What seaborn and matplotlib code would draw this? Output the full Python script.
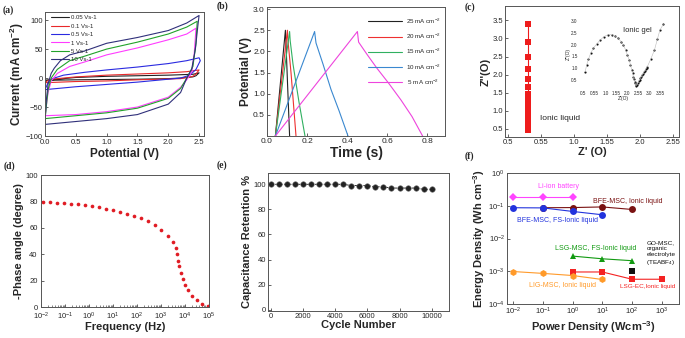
import numpy as np
import pandas as pd
import matplotlib
matplotlib.use("Agg")
import matplotlib.pyplot as plt
import seaborn as sns

sns.set_style("ticks")
plt.rcParams['font.family'] = ['Liberation Sans', 'DejaVu Sans']
plt.rcParams['mathtext.fontset'] = 'custom'
plt.rcParams['mathtext.rm'] = 'Liberation Sans'
plt.rcParams['mathtext.bf'] = 'Liberation Sans:bold'
plt.rcParams['mathtext.it'] = 'Liberation Sans:italic'
plt.rcParams['axes.edgecolor'] = '#555555'
plt.rcParams['axes.linewidth'] = 0.7

W, H = 685, 338

# ---------- (a) CV curves ----------
cv_labels = ['0.05 Vs-1', '0.1 Vs-1', '0.5 Vs-1', '1 Vs-1', '5 Vs-1', '10 Vs-1']
cv_colors = ['#222222', '#e8282a', '#2a2ae0', '#ff3cff', '#22a22a', '#30307a']
cv_005_v = [0, 0.5, 1.0, 1.5, 2.0, 2.4, 2.5, 2.45, 2.4, 2.2, 2.0, 1.5, 1.0, 0.5, 0.0, 0]
cv_005_i = [-4, 1, 3, 4, 5, 6.5, 9, 4, 2, 0, -1, -2, -2.5, -3, -4, -4]
cv_01_v = [0, 0.1, 0.5, 1.0, 1.5, 2.0, 2.3, 2.5, 2.45, 2.4, 2.2, 1.5, 1.0, 0.5, 0.0, 0]
cv_01_i = [-7, -2, 2, 5, 7, 9, 11, 14, 7, 3, -1, -3, -5, -6, -8, -7]
cv_05_v = [0, 0.05, 0.1, 0.15, 0.3, 0.65, 1.0, 1.5, 2.0, 2.3, 2.5, 2.52, 2.45, 2.35, 2.2, 1.5, 1.0, 0.5, 0.1, 0.0, 0]
cv_05_i = [-20, -8, -2, 0, 5, 10, 14, 19, 25, 30, 35, 30, 15, 5, 0, -7, -11, -15, -19, -20, -20]
cv_1_v = [0, 0.05, 0.1, 0.2, 0.4, 0.65, 1.0, 1.5, 2.0, 2.3, 2.45, 2.42, 2.38, 2.3, 2.2, 2.0, 1.5, 1.0, 0.5, 0.0]
cv_1_i = [-65, -25, -5, 8, 20, 28, 40, 52, 66, 76, 86, 40, 10, -3, -16, -33, -50, -58, -63, -65]
cv_5_v = [0, 0.05, 0.1, 0.2, 0.4, 0.65, 1.0, 1.5, 2.0, 2.3, 2.47, 2.45, 2.4, 2.3, 2.2, 2.0, 1.5, 1.0, 0.5, 0.0]
cv_5_i = [-70, -20, 0, 15, 30, 38, 50, 62, 76, 88, 98, 60, 20, 0, -18, -35, -52, -60, -65, -70]
cv_10_v = [0, 0.02, 0.05, 0.1, 0.15, 0.25, 0.4, 0.65, 1.0, 1.5, 2.0, 2.3, 2.5, 2.48, 2.44, 2.38, 2.3, 2.2, 2.0, 1.5, 1.0, 0.5, 0.0]
cv_10_i = [-80, -40, -10, 8, 17, 30, 40, 47, 60, 70, 82, 95, 108, 90, 50, 15, 0, -25, -45, -63, -70, -75, -80]
cv_v = [cv_005_v, cv_01_v, cv_05_v, cv_1_v, cv_5_v, cv_10_v]
cv_i = [cv_005_i, cv_01_i, cv_05_i, cv_1_i, cv_5_i, cv_10_i]

# ---------- (b) GCD curves ----------
gcd_labels = ['25 mA cm$^{-2}$', '20 mA cm$^{-2}$', '15 mA cm$^{-2}$', '10 mA cm$^{-2}$', ' 5 mA cm$^{-2}$']
gcd_colors = ['#222222', '#ee3030', '#30b060', '#3a88d0', '#ee44dd']
gcd_t = [
    [0.042, 0.092, 0.094, 0.103, 0.113],
    [0.042, 0.102, 0.104, 0.12, 0.145],
    [0.042, 0.113, 0.116, 0.13, 0.16, 0.19],
    [0.042, 0.238, 0.245, 0.28, 0.32, 0.36, 0.405],
    [0.042, 0.452, 0.458, 0.5, 0.55, 0.608, 0.67, 0.725, 0.778],
]
gcd_u = [
    [0.0, 2.5, 2.3, 1.2, 0.0],
    [0.0, 2.5, 2.3, 1.5, 0.0],
    [0.0, 2.47, 2.25, 1.7, 0.8, 0.0],
    [0.0, 2.47, 2.2, 1.7, 1.1, 0.6, 0.0],
    [0.0, 2.47, 2.22, 1.93, 1.6, 1.25, 0.85, 0.46, 0.0],
]

# ---------- (c) Nyquist ----------
il_z = 0.80
il_zz = [3.4, 2.9, 2.5, 2.15, 1.88, 1.65, 1.45, 1.3, 1.17, 1.07, 0.98, 0.9, 0.83,
         0.77, 0.71, 0.66, 0.61, 0.57, 0.53, 0.5, 0.47]
gel_z = [0.58, 0.65, 0.73, 0.83, 0.95, 1.11, 1.26, 1.44, 1.61, 1.79, 1.94, 2.09, 2.21,
         2.32, 2.42, 2.5, 2.58, 2.64, 2.7, 2.74, 2.77, 2.8, 2.83, 2.85, 2.87, 2.89,
         2.93, 2.97, 3.01, 3.05, 3.09, 3.13, 3.17, 3.21, 3.25, 3.29, 3.33, 3.37, 3.41,
         3.56, 3.73, 3.86, 3.98, 4.14]
gel_zz = [0.85, 1.14, 1.38, 1.63, 1.84, 2.03, 2.19, 2.34, 2.41, 2.42, 2.36, 2.27, 2.12,
          1.98, 1.77, 1.56, 1.35, 1.14, 0.92, 0.8, 0.64, 0.52, 0.42, 0.36, 0.3, 0.25,
          0.3, 0.37, 0.44, 0.5, 0.57, 0.64, 0.7, 0.77, 0.84, 0.9, 0.96, 1.02, 1.07,
          1.38, 1.77, 2.22, 2.62, 2.87]
c_ticks = [0.5, 1.0, 1.5, 2.0, 2.5, 3.0]
c_ticklabels = ['0.5', '0.55', '1.0', '1.55', '2.0', '2.55']
ins_ticks = [0.5, 1.0, 1.5, 2.0, 2.5, 3.0, 3.5, 4.0]
ins_ticklabels = ['0.5', '0.55', '1.0', '1.55', '2.0', '2.55', '3.0', '3.55']

# ---------- (d) Bode phase ----------
logf = [-1.9, -1.62, -1.33, -1.03, -0.74, -0.45, -0.16, 0.13, 0.42, 0.71, 1.0, 1.29,
        1.58, 1.87, 2.16, 2.45, 2.74, 3.02, 3.3, 3.5, 3.62, 3.67, 3.71, 3.76, 3.83,
        3.9, 3.99, 4.13, 4.31, 4.5, 4.71, 4.96]
phase = [79.5, 79.3, 79.1, 78.8, 78.3, 77.7, 77.0, 76.3, 75.5, 74.6, 73.5, 72.3,
         70.8, 69.2, 67.3, 65.2, 62.3, 58.5, 53.5, 49.0, 44.7, 40.0, 35.0, 31.0, 26.0,
         21.4, 17.0, 12.6, 8.3, 5.0, 2.5, 1.0]

# ---------- (e) cycling ----------
cycles = [0, 500, 1000, 1500, 2000, 2500, 3000, 3500, 4000, 4500, 5000, 5500, 6000,
          6500, 7000, 7500, 8000, 8500, 9000, 9500, 10000]
retention = [100, 100, 100, 100, 100, 100, 100, 100, 100, 100, 99, 99, 99, 98, 98,
             97, 97, 97, 97, 96, 96]

# ---------- (f) Ragone ----------
li_p, li_e = [0.01, 0.1, 1], [0.19, 0.19, 0.19]
bfe_p, bfe_e = [0.1, 1, 10, 100], [0.087, 0.088, 0.092, 0.077]
bfefs_p, bfefs_e = [0.01, 0.1, 1, 10], [0.087, 0.086, 0.067, 0.053]
lsgfs_p, lsgfs_e = [1, 10, 100], [0.0029, 0.0024, 0.0021]
lsgec_p, lsgec_e = [1, 10, 100, 1000], [0.00095, 0.00095, 0.00057, 0.00057]
lig_p, lig_e = [0.01, 0.1, 1, 10], [0.00098, 0.00086, 0.00074, 0.00056]
go_p, go_e = [100], [0.001]


def rect(l, r, t, b):
    return [l / W, 1 - b / H, (r - l) / W, (b - t) / H]


def style(ax, fs=5.5):
    for s in ax.spines.values():
        s.set_visible(True)
    ax.tick_params(direction='in', length=2, width=0.5, labelsize=fs, pad=1.5,
                   top=False, right=False)
    ax.tick_params(which='minor', direction='in', length=1.2, width=0.4)


fig = plt.figure(figsize=(W / 100, H / 100), dpi=100)
lab_kw = dict(fontsize=8.5, fontweight='bold')
lab2_kw = dict(fontsize=8, fontweight='bold')

# (a)
ax = fig.add_axes(rect(45, 204, 12, 136))
for v, i, c, lb in zip(cv_v, cv_i, cv_colors, cv_labels):
    sns.lineplot(x=v, y=i, sort=False, estimator=None, color=c, lw=0.8, label=lb, ax=ax)
ax.set_xlim(0, 2.58)
ax.set_ylim(-100, 114)
ax.set_xticks([0.0, 0.5, 1.0, 1.5, 2.0, 2.5])
ax.set_yticks([-100, -50, 0, 50, 100])
ax.set_xlabel('Potential (V)', labelpad=1, **lab_kw)
ax.set_ylabel(r'Current (mA cm$^{\mathbf{-2}}$)', labelpad=0, **lab_kw)
style(ax)
ax.tick_params(axis='x', pad=2.5)
ax.legend(loc='upper left', fontsize=4.3, frameon=False, handlelength=3,
          labelspacing=0.55, borderaxespad=0.1, handletextpad=0.3,
          bbox_to_anchor=(0.02, 1.0))

# (b)
ax = fig.add_axes(rect(267, 445, 7, 136))
for t, u, c, lb in zip(gcd_t, gcd_u, gcd_colors, gcd_labels):
    sns.lineplot(x=t, y=u, sort=False, estimator=None, color=c, lw=0.8, label=lb, ax=ax)
ax.set_xlim(0, 0.89)
ax.set_ylim(0, 3.05)
ax.set_xticks([0.0, 0.2, 0.4, 0.6, 0.8])
ax.set_yticks([0.5, 1.0, 1.5, 2.0, 2.5, 3.0])
ax.set_xlabel('Time (s)', fontsize=10, fontweight='bold', labelpad=1)
ax.set_ylabel('Potential (V)', labelpad=1, **lab_kw)
style(ax, 6)
ax.legend(loc='upper right', fontsize=4.5, frameon=False, handlelength=5.5,
          labelspacing=0.95, borderaxespad=0.3, handletextpad=0.6,
          bbox_to_anchor=(1.0, 0.96))

# (c)
ax = fig.add_axes(rect(505, 679, 6, 137))
sns.lineplot(x=[il_z] * len(il_zz), y=il_zz, sort=False, estimator=None,
             color='#ee1c1c', lw=0.8, marker='s', markersize=4.5,
             markeredgewidth=0, ax=ax)
ax.set_xlim(0.455, 3.09)
ax.set_ylim(0.27, 3.9)
ax.set_xticks(c_ticks)
ax.set_xticklabels(c_ticklabels)
ax.set_yticks([0.5, 1.0, 1.5, 2.0, 2.5, 3.0, 3.5])
ax.set_xlabel("Z' (O)", labelpad=1, **lab2_kw)
ax.set_ylabel("Z''(O)", labelpad=1, **lab2_kw)
style(ax)
ax.text(0.98, 0.75, 'Ionic liquid', fontsize=6)

ins = fig.add_axes(rect(579, 667, 18.6, 89.4))
sns.lineplot(x=gel_z, y=gel_zz, sort=False, estimator=None, color='#bbbbbb',
             lw=0.4, ax=ins)
sns.scatterplot(x=gel_z, y=gel_zz, color='#111111', s=2.5, linewidth=0, ax=ins)
ins.set_xlim(0.3, 4.3)
ins.set_ylim(0.1, 3.1)
ins.set_xticks(ins_ticks)
ins.set_xticklabels(ins_ticklabels)
ins.set_yticks([0.5, 1.0, 1.5, 2.0, 2.5, 3.0])
ins.tick_params(length=0, labelsize=3.3, pad=1)
for s in ins.spines.values():
    s.set_visible(False)
ins.set_xlabel("Z'(O)", fontsize=3.5, labelpad=0.5)
ins.set_ylabel("Z''(O)", fontsize=3.5, labelpad=0.5)
ins.text(2.3, 2.55, 'Ionic gel', fontsize=5.5)
ins.patch.set_alpha(0)

# (d)
ax = fig.add_axes(rect(41, 209, 175, 307))
sns.scatterplot(x=[10 ** f for f in logf], y=phase, color='#e01c24', s=7,
                linewidth=0, ax=ax)
ax.set_xscale('log')
ax.set_xlim(1e-2, 1e5)
ax.set_ylim(0, 100)
ax.set_yticks([0, 20, 40, 60, 80, 100])
ax.set_xticks([10.0 ** k for k in range(-2, 6)])
ax.set_xlabel('Frequency (Hz)', labelpad=0, **lab2_kw)
ax.set_ylabel('-Phase angle (degree)', labelpad=1, **lab2_kw)
style(ax)
ax.tick_params(axis='x', pad=2.5)
ax.tick_params(axis='y', pad=2.5)

# (e)
ax = fig.add_axes(rect(268, 449, 173, 311))
sns.lineplot(x=cycles, y=retention, color='#111111', lw=0.6, linestyle='--',
             marker='o', markersize=4, markerfacecolor='#222222',
             markeredgecolor='#777777', markeredgewidth=0.4, ax=ax)
ax.set_xlim(-170, 11075)
ax.set_ylim(-1, 109)
ax.set_xticks([0, 2000, 4000, 6000, 8000, 10000])
ax.set_yticks([0, 20, 40, 60, 80, 100])
ax.set_xlabel('Cycle Number', labelpad=0, **lab2_kw)
ax.set_ylabel('Capacitance Retention %', labelpad=1, **lab2_kw)
style(ax)

# (f)
ax = fig.add_axes(rect(507, 679, 173, 304))
series = [
    (li_p, li_e, '#ff44ff', 'D', 4),
    (bfe_p, bfe_e, '#7a1212', 'o', 5),
    (bfefs_p, bfefs_e, '#2233dd', 'o', 5),
    (lsgfs_p, lsgfs_e, '#129a12', '^', 5),
    (lsgec_p, lsgec_e, '#f42222', 's', 4.5),
    (lig_p, lig_e, '#ff9a2a', 'h', 5),
    (go_p, go_e, '#111111', 's', 4),
]
for p, e, c, m, ms in series:
    sns.lineplot(x=p, y=e, color=c, lw=0.8, marker=m, markersize=ms,
                 markeredgewidth=0, ax=ax)
ax.set_xscale('log')
ax.set_yscale('log')
ax.set_xlim(10 ** -2.21, 10 ** 3.58)
ax.set_ylim(1e-4, 1e0)
ax.set_xticks([10.0 ** k for k in range(-2, 4)])
ax.set_yticks([10.0 ** k for k in range(-4, 1)])
ax.minorticks_off()
ax.set_xlabel(r'Power Density (Wcm$^{\mathbf{-3}}$)', labelpad=1, **lab2_kw)
ax.set_ylabel(r'Energy Density (Wh cm$^{\mathbf{-3}}$)', labelpad=1, **lab2_kw)
style(ax)
tk = dict(fontsize=5, transform=ax.transAxes, va='center')
ax.text(0.18, 0.90, 'Li-ion battery', color='#ff44ff', **tk)
ax.text(0.50, 0.786, 'BFE-MSC, Ionic liquid', color='#7a1212', **tk)
ax.text(0.06, 0.64, 'BFE-MSC, FS-Ionic liquid', color='#2233dd', **tk)
ax.text(0.28, 0.42, 'LSG-MSC, FS-Ionic liquid', color='#129a12', **tk)
ax.text(0.81, 0.385, 'GO-MSC,\norganic\nelectrolyte\n(TEABF$_4$)', color='#111111',
        linespacing=1.25, fontsize=4.6, transform=ax.transAxes, va='center')
ax.text(0.13, 0.145, 'LIG-MSC, Ionic liquid', color='#ff9a2a', **tk)
ax.text(0.655, 0.137, 'LSG-EC,Ionic liquid', color='#f42222',
        fontsize=4.6, transform=ax.transAxes, va='center')

# panel letters
for s, x, y in [('(a)', 8, 10), ('(b)', 222, 6), ('(c)', 470, 7),
                ('(d)', 9, 166), ('(e)', 222, 165), ('(f)', 469, 156)]:
    fig.text(x / W, 1 - y / H, s, fontsize=7, fontweight='bold',
             family='Liberation Serif', ha='center', va='center')

fig.savefig('out.png', dpi=100)
